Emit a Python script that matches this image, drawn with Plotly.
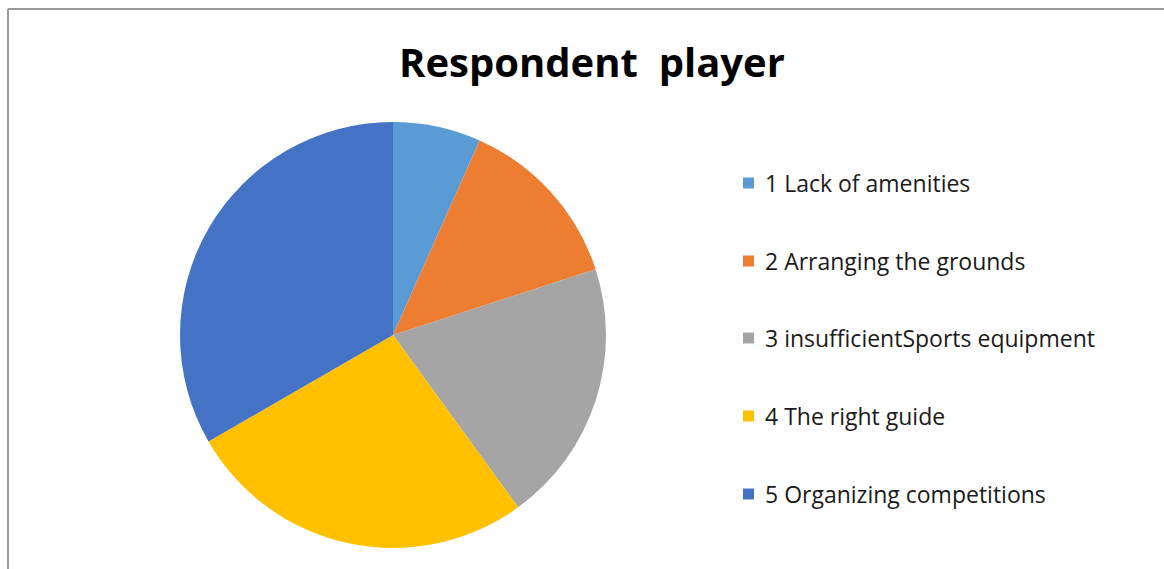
import plotly.graph_objects as go

# Survey data
labels = [
    "1 Lack of amenities",
    "2 Arranging the grounds",
    "3 insufficientSports equipment",
    "4 The right guide",
    "5 Organizing competitions",
]
values = [1, 2, 3, 4, 5]
colors = ["#5B9BD5", "#ED7D31", "#A5A5A5", "#FFC000", "#4472C4"]
title_text = "Respondent  player"

W, H = 1164, 569
FONT = "'Open Sans', sans-serif"


def px_x(x):
    return x / W


def px_y(y):
    return 1 - y / H


fig = go.Figure(
    go.Pie(
        labels=labels,
        values=values,
        marker=dict(colors=colors, line=dict(width=0)),
        sort=False,
        direction="clockwise",
        rotation=0,
        textinfo="none",
        showlegend=False,
        domain=dict(x=[px_x(180), px_x(606)], y=[px_y(548), px_y(122)]),
    )
)

shapes = [
    # chart frame (top and left edges)
    dict(type="line", xref="paper", yref="paper",
         x0=px_x(8), x1=1.01, y0=px_y(9), y1=px_y(9),
         line=dict(color="#9A9A9A", width=2)),
    dict(type="line", xref="paper", yref="paper",
         x0=px_x(8), x1=px_x(8), y0=px_y(9), y1=-0.01,
         line=dict(color="#9A9A9A", width=2)),
]
annotations = [
    dict(text="<b>%s</b>" % title_text, xref="paper", yref="paper",
         x=px_x(592), y=px_y(61), showarrow=False,
         xanchor="center", yanchor="middle",
         font=dict(family=FONT, size=40, color="#000000")),
]

# legend entries: colour swatch + label
legend_y = [183, 261, 338, 416, 494]
for lab, col, ly in zip(labels, colors, legend_y):
    shapes.append(dict(type="rect", xref="paper", yref="paper",
                       x0=px_x(743), x1=px_x(754),
                       y0=px_y(ly + 5.5), y1=px_y(ly - 5.5),
                       fillcolor=col, line=dict(width=0)))
    annotations.append(dict(text=lab, xref="paper", yref="paper",
                            x=px_x(763), y=px_y(ly), showarrow=False,
                            xanchor="left", yanchor="middle",
                            font=dict(family=FONT, size=23, color="#1a1a1a")))

fig.update_layout(
    width=W, height=H,
    margin=dict(l=0, r=0, t=0, b=0),
    paper_bgcolor="white",
    plot_bgcolor="white",
    shapes=shapes,
    annotations=annotations,
)

fig.write_html("out.html")
